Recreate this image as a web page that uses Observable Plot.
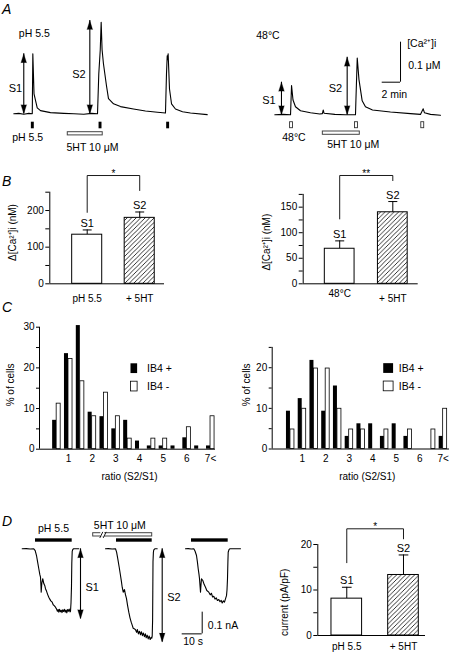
<!DOCTYPE html>
<html><head><meta charset="utf-8">
<script src="https://cdn.jsdelivr.net/npm/d3@7"></script>
<script src="https://cdn.jsdelivr.net/npm/@observablehq/plot@0.6"></script>
<style>
html,body{margin:0;padding:0;background:#fff;}
#root{position:relative;width:451px;height:652px;overflow:hidden;background:#fff;font-family:'Liberation Sans',Arial,sans-serif;color:#000;}
.letter{position:absolute;font-style:italic;font-size:14px;line-height:14px;}
</style></head><body>
<svg width="0" height="0" style="position:absolute"><defs>
<pattern id="hatch" patternUnits="userSpaceOnUse" width="4.5" height="4.5"><path d="M-1,1 L1,-1 M0,4.5 L4.5,0 M3.5,5.5 L5.5,3.5" stroke="black" stroke-width="0.8"/></pattern>
</defs></svg>
<div id="root">
<div class="letter" style="left:2px;top:2px">A</div>
<div class="letter" style="left:2px;top:174px">B</div>
<div class="letter" style="left:2px;top:300px">C</div>
<div class="letter" style="left:2px;top:514px">D</div>
</div>
<script>
// ---------- DATA ----------
// Panel A: [Ca2+]i traces, [time (min), delta Ca (nM)]
const aLeftTrace = [[0,0],[0.55,1],[1.09,-1],[1.64,1],[2.02,0],[2.08,150],[2.21,50],[2.56,15],[2.92,8],[4.01,3],[5.46,1],[6.56,0],[7.65,-1],[8.5,1],[9.15,0],[9.29,100],[9.37,130],[9.45,160],[9.55,229],[9.65,160],[9.80,125],[10.13,70],[10.35,38],[10.90,25],[11.66,18],[13.08,12],[14.39,7],[15.70,4],[16.58,2],[16.69,100],[16.77,145],[16.81,135],[16.87,150],[17.02,62],[17.24,25],[17.67,12],[18.44,5],[19.31,2],[21.14,-2]];
const aRightTrace = [[0,0],[0.9,1],[1.72,0],[1.83,73],[1.99,37],[2.26,20],[2.81,10],[3.90,5],[4.92,2],[5.20,3],[5.29,12],[5.38,4],[6.56,1],[7.7,0],[8.82,0],[8.87,40],[9.01,142],[9.20,88],[9.55,35],[9.91,20],[10.68,12],[12.64,7],[14.83,3],[15.92,1],[16.22,15],[16.36,5],[17.02,1],[18.11,-1]];
const aLeftStim = [2.08, 9.48, 16.87];      // pH 5.5 applications (min)
const aRightStim = [1.83, 8.93, 16.17];     // 48°C applications (min)
const aLeft5HT = [5.90, 9.72];              // 5HT 10 µM period (min)
const aRight5HT = [5.25, 9.29];
const aLeftArrows = [{x:1.09, lo:0, hi:150}, {x:8.31, lo:0, hi:233}];
const aRightArrows = [{x:0.73, lo:0, hi:81.5}, {x:7.91, lo:0, hi:144}];

// Panel B: mean ± SEM (nM)
const bLeftCats = ["pH 5.5", "+ 5HT"];
const bLeftMeans = [134, 180];
const bLeftSems = [13, 16];
const bRightCats = ["48°C", "+ 5HT"];
const bRightMeans = [68.6, 140];
const bRightSems = [15.4, 21];
const barTags = ["S1", "S2"];

// Panel C: % of cells per ratio bin
const cBins = [0.5,1,1.5,2,2.5,3,3.5,4,4.5,5,5.5,6,6.5,7];
const cTickLabels = ["1","2","3","4","5","6","7<"];
const cLeftPos = [7.1,23.5,30.4,9.1,8.0,5.0,7.1,2.0,0.8,0.8,0.8,2.8,0.8,0.8];
const cLeftNeg = [11.2,22.2,16.7,8.1,13.9,8.1,2.6,0,2.6,2.6,0,5.4,0,8.1];
const cRightPos = [9.3,12.4,21.8,9.3,15.5,3.1,6.2,6.2,3.1,6.2,3.1,0,0,3.1];
const cRightNeg = [4.8,9.9,19.8,19.8,9.9,4.8,4.8,0,4.8,0,4.8,0,4.8,9.9];

// Panel D: whole-cell currents, [display time (s), current (pA)]
const dTrace1 = [[0,0],[2,1],[4,-1],[5.8,0],[6.5,-8],[7.15,-31],[7.7,-60],[8.3,-92],[8.8,-118],[9.15,-131],[9.4,-175],[9.5,-200],[9.8,-160],[10,-150],[10.3,-138],[10.8,-160],[11.3,-170],[11.65,-184],[12.2,-196],[12.7,-210],[13.3,-223],[13.8,-232],[14.3,-240],[15,-246],[15.5,-258],[16,-262],[16.65,-269],[17.2,-278],[17.6,-288],[18,-280],[18.3,-292],[18.7,-279],[19.1,-290],[19.5,-283],[19.9,-294],[20.3,-281],[20.7,-289],[21.1,-279],[21.5,-292],[21.9,-282],[22.3,-295],[22.7,-280],[23.1,-288],[23.5,-278],[23.9,-291],[24.15,-288],[24.4,-250],[24.65,-172],[24.8,-67],[25,-12],[25.3,-3],[25.7,0],[27,0],[28.3,0]];
const dTrace2 = [[41.65,0],[43,1],[45,-1],[46.65,0],[47.2,-15],[47.8,-46],[48.5,-85],[49.15,-123],[49.6,-150],[50,-177],[50.5,-200],[50.8,-192],[51.15,-188],[51.6,-210],[52.15,-230],[52.7,-262],[53.3,-292],[53.9,-318],[54.5,-338],[55,-352],[55.5,-366],[56,-368],[56.65,-373],[57.2,-385],[57.6,-372],[58.1,-392],[58.6,-380],[59.15,-396],[59.6,-382],[60.1,-400],[60.6,-388],[61.1,-405],[61.6,-392],[62,-410],[62.5,-398],[63,-415],[63.5,-402],[64,-418],[64.5,-408],[64.8,-412],[65,-403],[65.2,-330],[65.3,-200],[65.4,-60],[65.6,-16],[65.8,-5],[66.3,0],[67.5,0]];
const dTrace3 = [[81.65,0],[83,1],[84.5,-1],[85.8,0],[86.4,-10],[87.15,-31],[87.6,-60],[88,-92],[88.4,-118],[88.65,-138],[89,-180],[89.15,-200],[89.4,-165],[89.65,-138],[90.3,-146],[91,-165],[91.65,-177],[92.3,-192],[93.3,-200],[94,-212],[94.6,-205],[95.2,-222],[95.8,-219],[96.4,-232],[97,-226],[97.6,-238],[98.3,-234],[98.9,-244],[99.5,-238],[100,-250],[100.6,-240],[101.15,-246],[101.6,-232],[102.15,-216],[102.4,-190],[102.65,-138],[102.85,-60],[103,-16],[103.4,-4],[103.8,0],[106,0],[109.15,0]];
const dPhBars = [[6.65,25],[47.15,65],[84.65,103]];   // pH 5.5 application periods (s)
const d5HT = [35.5, 65];
const dArrows = [{x:29.15, lo:-322.6, hi:0}, {x:70, lo:-430, hi:0}];

// Panel D right: current density mean ± SEM (pA/pF)
const dCats = ["pH 5.5", "+ 5HT"];
const dMeans = [8.1, 13.3];
const dSems = [2.5, 4.4];

// ---------- DRAWING ----------
const root = document.getElementById("root");
const style = {fontFamily: "'Liberation Sans', Arial, sans-serif", fontSize: "10px", background: "none", overflow: "visible", color: "black"};
function place(svg, left, top) {
  svg.style.position = "absolute";
  svg.style.left = left + "px";
  svg.style.top = top + "px";
  root.appendChild(svg);
}
function label(s, x, y, o = {}) {
  return Plot.text([s], {x: () => x, y: () => y, text: d => d, fontSize: 10.5, ...o});
}
function arrowMarks(arr) {
  return [
    Plot.ruleX(arr, {x: "x", y1: "lo", y2: "hi", strokeWidth: 1.1}),
    Plot.vector(arr, {x: "x", y: "hi", rotate: 0, anchor: "end", length: 9, r: 2.8, shape: "spike", fill: "black", stroke: "black", strokeWidth: 0.3}),
    Plot.vector(arr, {x: "x", y: "lo", rotate: 180, anchor: "end", length: 9, r: 2.8, shape: "spike", fill: "black", stroke: "black", strokeWidth: 0.3})
  ];
}

// A left
place(Plot.plot({
  width: 225, height: 160, marginLeft: 13.3, marginRight: 18.3, marginTop: 0, marginBottom: 0,
  x: {domain: [0, 21.14]}, y: {domain: [-116.75, 283.25]}, axis: null, style,
  marks: [
    Plot.line(aLeftTrace, {x: d => d[0], y: d => d[1], strokeWidth: 1.1}),
    Plot.rect(aLeftStim, {x1: d => d - 0.16, x2: d => d + 0.16, y1: -21, y2: -37.5, fill: "black"}),
    Plot.rect([aLeft5HT], {x1: d => d[0], x2: d => d[1], y1: -46, y2: -54, fill: "white", stroke: "#444", strokeWidth: 1}),
    ...arrowMarks(aLeftArrows),
    label("pH 5.5", 0.55, 200, {textAnchor: "start"}),
    label("pH 5.5", -0.17, -58.5, {textAnchor: "start"}),
    label("5HT 10 μM", 5.76, -83.5, {textAnchor: "start"}),
    label("S1", -0.55, 62.5, {textAnchor: "start", fontSize: 11}),
    label("S2", 6.38, 98, {textAnchor: "start", fontSize: 11})
  ]
}), 0, 0);

// A right
place(Plot.plot({
  width: 226, height: 160, marginLeft: 49.3, marginRight: 11, marginTop: 0, marginBottom: 0,
  x: {domain: [0, 18.11]}, y: {domain: [-114.25, 285.75]}, axis: null, style,
  marks: [
    Plot.line(aRightTrace, {x: d => d[0], y: d => d[1], strokeWidth: 1.1}),
    Plot.rect(aRightStim, {x1: d => d - 0.16, x2: d => d + 0.16, y1: -18.5, y2: -33.5, fill: "white", stroke: "#333", strokeWidth: 0.9}),
    Plot.rect([aRight5HT], {x1: d => d[0], x2: d => d[1], y1: -41.75, y2: -50, fill: "white", stroke: "#444", strokeWidth: 1}),
    ...arrowMarks(aRightArrows),
    Plot.ruleX([13.74], {y1: 81.5, y2: 181.5, strokeWidth: 1}),
    Plot.ruleY([81.5], {x1: 11.74, x2: 13.74, strokeWidth: 1}),
    label("48°C", -2.03, 198, {textAnchor: "start"}),
    label("48°C", 0.81, -57.5, {textAnchor: "start"}),
    label("5HT 10 μM", 5.73, -74, {textAnchor: "start"}),
    label("S1", -1.38, 35.75, {textAnchor: "start", fontSize: 11}),
    label("S2", 5.90, 65, {textAnchor: "start", fontSize: 11}),
    label("[Ca²⁺]i", 14.47, 179, {textAnchor: "start"}),
    label("0.1 μM", 14.58, 123, {textAnchor: "start"}),
    label("2 min", 11.66, 50.75, {textAnchor: "start"})
  ]
}), 225, 0);

// Bar panels
function barPanel(o) {
  const rows = o.cats.map((c, k) => ({i: k + 1, m: o.means[k], e: o.sems[k], s: barTags[k], c}));
  const hw = o.hw;
  const all = [...o.major, ...o.minor];
  return Plot.plot({
    width: o.width, height: o.height, marginLeft: o.ml, marginRight: o.mr, marginTop: o.mt, marginBottom: o.mb,
    x: {domain: o.xDomain, axis: null}, y: {domain: o.yDomain}, style,
    marks: [
      Plot.ruleX(rows, {x: "i", y1: "m", y2: d => d.m + d.e, strokeWidth: 1}),
      Plot.link(rows, {x1: d => d.i - 0.085, x2: d => d.i + 0.085, y1: d => d.m + d.e, y2: d => d.m + d.e, strokeWidth: 1}),
      Plot.rect(rows.filter(d => d.i === 1), {x1: d => d.i - hw, x2: d => d.i + hw, y1: 0, y2: "m", fill: "white", stroke: "black", strokeWidth: 1}),
      Plot.rect(rows.filter(d => d.i === 2), {x1: d => d.i - hw, x2: d => d.i + hw, y1: 0, y2: "m", fill: "url(#hatch)", stroke: "black", strokeWidth: 1}),
      Plot.ruleY([0], {strokeWidth: 1}),
      Plot.ruleX([o.xDomain[0]], {strokeWidth: 1}),
      Plot.axisY({ticks: all, tickFormat: d => o.major.includes(d) ? String(d) : "", tickSize: 4, tickPadding: 2, label: null, fontSize: 10}),
      Plot.text(rows.slice(0, 1), {x: "i", y: () => 0, text: "c", dy: o.xPads[0], fontSize: 10}),
      Plot.text(rows.slice(1, 2), {x: "i", y: () => 0, text: "c", dy: o.xPads[1], fontSize: 10}),
      Plot.text(rows, {x: "i", y: d => d.m + d.e, text: "s", lineAnchor: "bottom", dy: -3, fontSize: 11}),
      Plot.line(o.bracket, {x: d => d[0], y: d => d[1], strokeWidth: 0.9}),
      Plot.text([o.star], {x: () => 1.5, y: () => o.bracket[1][1], text: d => d, dy: -2, fontSize: 10}),
      Plot.text([o.ylabel], {x: () => o.xDomain[0], y: () => o.ylabelY, text: d => d, rotate: -90, dx: o.ylabelDx, fontSize: 10})
    ]
  });
}

place(barPanel({
  cats: bLeftCats, means: bLeftMeans, sems: bLeftSems, hw: 0.286,
  width: 225, height: 150, ml: 49.3, mr: 61, mt: 26.7, mb: 31.7,
  xDomain: [0.288, 2.472], yDomain: [0, 250], major: [0, 100, 200], minor: [50, 150, 250],
  xPads: [15, 15], bracket: [[1, 195], [1, 295.5], [2, 295.5], [2, 254.6]], star: "*",
  ylabel: "Δ[Ca²⁺]i (nM)", ylabelY: 140, ylabelDx: -36.6
}), 0, 165);

place(barPanel({
  cats: bRightCats, means: bRightMeans, sems: bRightSems, hw: 0.28,
  width: 226, height: 150, ml: 77.7, mr: 33.3, mt: 28.9, mb: 31.7,
  xDomain: [0.313, 2.478], yDomain: [0, 175], major: [0, 50, 100, 150], minor: [25, 75, 125, 175],
  xPads: [10, 15], bracket: [[1, 127], [1, 212], [2, 212], [2, 202]], star: "**",
  ylabel: "Δ[Ca²⁺]i (nM)", ylabelY: 81.5, ylabelDx: -36
}), 225, 165);

// C histograms
function histPanel(o) {
  const rows = cBins.map((b, k) => ({b, p: o.pos[k], n: o.neg[k]}));
  const all = [...o.major, ...o.minor];
  return Plot.plot({
    width: o.width, height: o.height, marginLeft: o.ml, marginRight: o.mr, marginTop: o.mt, marginBottom: o.mb,
    x: {domain: o.xDomain}, y: {domain: o.yDomain}, style,
    marks: [
      Plot.rect(rows.filter(d => d.p > 0), {x1: d => d.b - 0.17, x2: d => d.b, y1: 0, y2: "p", fill: "black"}),
      Plot.rect(rows.filter(d => d.n > 0), {x1: d => d.b, x2: d => d.b + 0.17, y1: 0, y2: "n", fill: "white", stroke: "black", strokeWidth: 0.8}),
      Plot.ruleY([0], {strokeWidth: 1}),
      Plot.ruleX([o.xDomain[0]], {strokeWidth: 1}),
      Plot.axisY({ticks: all, tickFormat: d => o.major.includes(d) ? String(d) : "", tickSize: 3, tickPadding: 2, label: null, fontSize: 10}),
      Plot.axisX({ticks: [1, 2, 3, 4, 5, 6, 7], tickFormat: d => cTickLabels[d - 1], tickSize: 0, tickPadding: 6, label: null, fontSize: 10}),
      Plot.text(["ratio (S2/S1)"], {x: () => o.xlabelX, y: () => 0, text: d => d, dy: 28, fontSize: 10}),
      Plot.text(["% of cells"], {x: () => o.xDomain[0], y: () => 15.8, text: d => d, rotate: -90, dx: o.ylabelDx, fontSize: 10}),
      Plot.rect([0], {x1: o.lg[0], x2: o.lg[1], y1: 18.6, y2: 21.0, fill: "black"}),
      Plot.rect([0], {x1: o.lg[0], x2: o.lg[1], y1: 14.2, y2: 16.6, fill: "white", stroke: "black", strokeWidth: 0.8}),
      Plot.text(["IB4 +"], {x: () => o.lg[2], y: () => 19.8, text: d => d, textAnchor: "start", fontSize: 10.5}),
      Plot.text(["IB4 -"], {x: () => o.lg[2], y: () => 15.4, text: d => d, textAnchor: "start", fontSize: 10.5})
    ]
  });
}

place(histPanel({
  pos: cLeftPos, neg: cLeftNeg, width: 225, height: 170, ml: 39, mr: 10, mt: 11.7, mb: 36.3,
  xDomain: [-0.225, 7.21], yDomain: [0, 30], major: [0, 10, 20, 30], minor: [5, 15, 25],
  xlabelX: 3.58, ylabelDx: -29, lg: [3.64, 3.92, 4.32]
}), 0, 315);

place(histPanel({
  pos: cRightPos, neg: cRightNeg, width: 226, height: 170, ml: 46.7, mr: 2, mt: 31.9, mb: 36.5,
  xDomain: [-0.277, 7.27], yDomain: [0, 25], major: [0, 10, 20], minor: [5, 15, 25],
  xlabelX: 3.77, ylabelDx: -25, lg: [4.47, 4.89, 5.11]
}), 225, 315);

// D left traces
place(Plot.plot({
  width: 260, height: 152, marginLeft: 21.7, marginRight: 0, marginTop: 0, marginBottom: 0,
  x: {domain: [0, 119.15]}, y: {domain: [-477.9, 222.6]}, axis: null, style,
  marks: [
    Plot.line(dTrace1, {x: d => d[0], y: d => d[1], strokeWidth: 1.1}),
    Plot.line(dTrace2, {x: d => d[0], y: d => d[1], strokeWidth: 1.1}),
    Plot.line(dTrace3, {x: d => d[0], y: d => d[1], strokeWidth: 1.1}),
    Plot.rect(dPhBars, {x1: d => d[0], x2: d => d[1], y1: 30.4, y2: 46, fill: "black"}),
    Plot.rect([d5HT], {x1: d => d[0], x2: d => d[1], y1: 56.7, y2: 71.9, fill: "white", stroke: "#444", strokeWidth: 1}),
    Plot.rect([0], {x1: 39.3, x2: 41.3, y1: 54, y2: 75, fill: "white"}),
    Plot.link([[38.8, 50, 40.3, 78], [40.5, 50, 42, 78]], {x1: d => d[0], y1: d => d[1], x2: d => d[2], y2: d => d[3], strokeWidth: 0.9}),
    ...arrowMarks(dArrows),
    Plot.ruleX([90], {y1: -292, y2: -392, strokeWidth: 1}),
    Plot.ruleY([-392], {x1: 80, x2: 90, strokeWidth: 1}),
    label("pH 5.5", 15.65, 95),
    label("5HT 10 μM", 35.8, 107, {textAnchor: "start"}),
    label("S1", 31.65, -177, {textAnchor: "start", fontSize: 11}),
    label("S2", 72.5, -223, {textAnchor: "start", fontSize: 11}),
    label("0.1 nA", 92.8, -353, {textAnchor: "start"}),
    label("10 s", 80.5, -430, {textAnchor: "start"})
  ]
}), 0, 500);

// D right bars
place(barPanel({
  cats: dCats, means: dMeans, sems: dSems, hw: 0.27,
  width: 191, height: 152, ml: 57.3, mr: 26, mt: 44, mb: 17,
  xPads: [11, 11], bracket: [[1, 16], [1, 23.45], [2, 23.45], [2, 21.25]], star: "*",
  xDomain: [0.489, 2.388], yDomain: [0, 20], major: [0, 10, 20], minor: [5, 15],
  ylabel: "current (pA/pF)", ylabelY: 7.3, ylabelDx: -33.3
}), 260, 500);
</script>
</body></html>
